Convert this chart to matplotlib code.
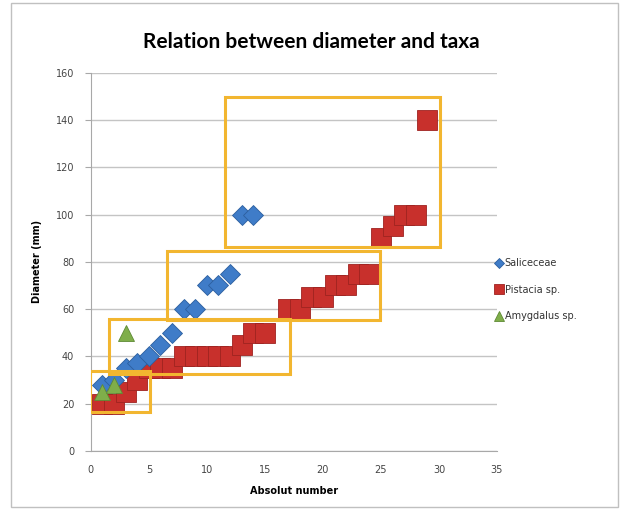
import matplotlib
matplotlib.use('Agg')
import matplotlib.pyplot as plt
from matplotlib.patches import Rectangle

# DATOS
sal_x = [1, 2, 3, 4, 5, 6, 7, 8, 9, 10, 11, 12, 13, 14]
sal_y = [28, 30, 35, 37, 40, 45, 50, 60, 60, 70, 70, 75, 100, 100]

pis_x = [1, 2, 3, 4, 5, 6, 7, 8, 9, 10, 11, 12, 13, 14, 15,
         17, 18, 19, 20, 21, 22, 23, 24, 25, 26, 27, 28, 29]
pis_y = [20, 20, 25, 30, 35, 35, 35, 40, 40, 40, 40, 40, 45, 50, 50,
         60, 60, 65, 65, 70, 70, 75, 75, 90, 95, 100, 100, 140]

amy_x = [1, 2, 3]
amy_y = [25, 28, 50]

# cajas de agrupamiento (x0, y0, x1, y1)
cajas = [(-0.1, 16.5, 5.1, 34),
         (1.6, 32.5, 17.2, 56),
         (6.6, 55.5, 24.9, 84.5),
         (11.6, 86.5, 30.1, 150)]

fig = plt.figure(figsize=(6.22, 5.17), dpi=100)
ax = fig.add_axes([0.146, 0.128, 0.653, 0.731])

ax.plot(pis_x, pis_y, 's', ms=14, color='#c8302c', mec='#9e2320', mew=0.6,
        label='Pistacia sp.', zorder=3)
ax.plot(sal_x, sal_y, 'D', ms=10, color='#3f7cc8', mec='#2c5f9e', mew=0.6,
        label='Saliceceae', zorder=4)
ax.plot(amy_x, amy_y, '^', ms=12, color='#7fae4a', mec='#5e8a34', mew=0.6,
        label='Amygdalus sp.', zorder=5)

for x0, y0, x1, y1 in cajas:
    ax.add_patch(Rectangle((x0, y0), x1 - x0, y1 - y0, fill=False,
                           ec='#f2b630', lw=2.2, zorder=6))

ax.set_xlim(0, 35)
ax.set_ylim(0, 160)
ax.set_xticks(range(0, 36, 5))
ax.set_yticks(range(0, 161, 20))
ax.yaxis.grid(True, color='#c4c4c4', lw=1)
ax.set_axisbelow(True)
for s in ['top', 'right']:
    ax.spines[s].set_visible(False)
for s in ['left', 'bottom']:
    ax.spines[s].set_color('#a8a8a8')
ax.tick_params(axis='y', length=4, color='#a8a8a8', labelsize=7,
               labelcolor='#444444', pad=8)
ax.tick_params(axis='x', length=0, labelsize=7, labelcolor='#444444', pad=10)

ax.set_xlabel('Absolut number', fontsize=7, fontweight='bold', labelpad=8)
ax.set_ylabel('Diameter (mm)', fontsize=7, fontweight='bold', labelpad=10)
fig.text(0.5, 0.918, 'Relation between diameter and taxa', ha='center',
         va='center', fontsize=15, fontweight='bold', family='Lato')

handles, labels = ax.get_legend_handles_labels()
orden = [1, 0, 2]
leg = fig.legend([handles[i] for i in orden], [labels[i] for i in orden],
                 loc='center left', bbox_to_anchor=(0.78, 0.44),
                 frameon=False, fontsize=7, handletextpad=0.1,
                 labelspacing=1.7, markerscale=0.55, handlelength=1)
for t in leg.get_texts():
    t.set_color('#333333')

fig.add_artist(Rectangle((0.018, 0.02), 0.975, 0.975, fill=False,
                         ec='#c0c0c0', lw=1, transform=fig.transFigure))

fig.savefig('out.png', dpi=100)
